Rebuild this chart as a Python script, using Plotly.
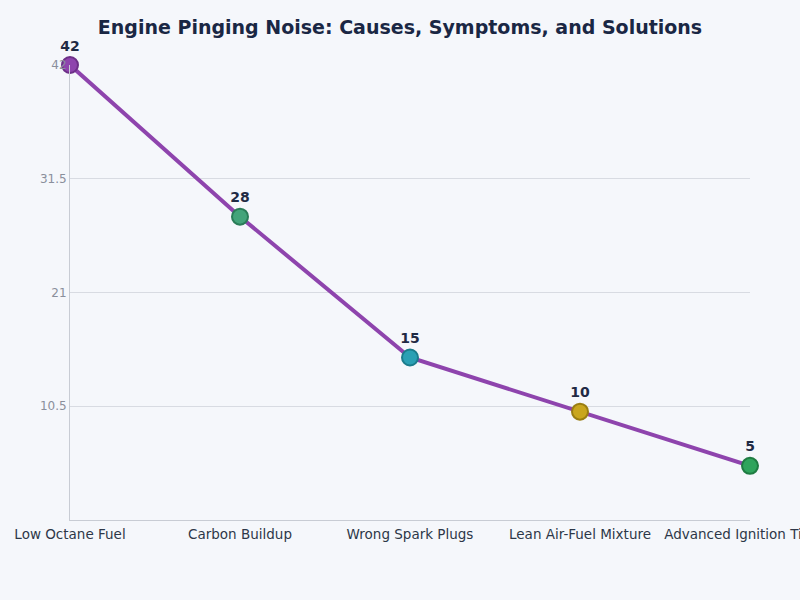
import plotly.graph_objects as go

# %% Data
causes = ['Low Octane Fuel', 'Carbon Buildup', 'Wrong Spark Plugs',
          'Lean Air-Fuel Mixture', 'Advanced Ignition Timing']
share = [42, 28, 15, 10, 5]
marker_colors = ['#8e44ad', '#43a47a', '#2aa0b4', '#c9a61e', '#2fa45c']
marker_edges = ['#6c2f87', '#2a7d58', '#1b7c8c', '#9a7e12', '#1f7c42']
y_ticks = [10.5, 21, 31.5, 42]

# %% Plot
fig = go.Figure()

fig.add_trace(
    go.Scatter(
        x=causes, y=share,
        mode='lines+markers+text',
        line=dict(color='#8e44ad', width=4),
        marker=dict(size=16, color=marker_colors,
                    line=dict(color=marker_edges, width=2)),
        text=[str(v) for v in share],
        textposition='top center',
        textfont=dict(family='DejaVu Sans', size=14, color='#1f2a44', weight='bold'),
        cliponaxis=False,
        hoverinfo='x+y'
    )
)

fig.update_xaxes(
    range=[0, 4],
    showgrid=False,
    showline=True, linecolor='#c8ccd4', linewidth=1,
    ticks='',
    tickangle=0,
    ticklabelstandoff=2,
    automargin=False,
    tickfont=dict(family='DejaVu Sans', size=13.5, color='#2d3748'),
)
fig.update_yaxes(
    range=[0, 42],
    tickvals=y_ticks,
    showgrid=True, gridcolor='#d8dbe2', gridwidth=1,
    showline=True, linecolor='#c8ccd4', linewidth=1,
    zeroline=False,
    automargin=False,
    tickfont=dict(family='DejaVu Sans', size=12, color='#8a8f9c'),
)

fig.update_layout(
    title=dict(text='<b>Engine Pinging Noise: Causes, Symptoms, and Solutions</b>',
               x=0.5, xanchor='center', y=0.955, yanchor='middle',
               font=dict(family='DejaVu Sans', size=19, color='#1a2744')),
    font=dict(family='DejaVu Sans'),
    paper_bgcolor='#f5f7fb',
    plot_bgcolor='#f5f7fb',
    width=800, height=600,
    margin=dict(l=70, r=50, t=65, b=80),
    showlegend=False
)

# page margin off so the figure sits at the window corner
fig.write_html('out.html', config={'displayModeBar': False},
               post_script="document.body.style.margin='0';")
